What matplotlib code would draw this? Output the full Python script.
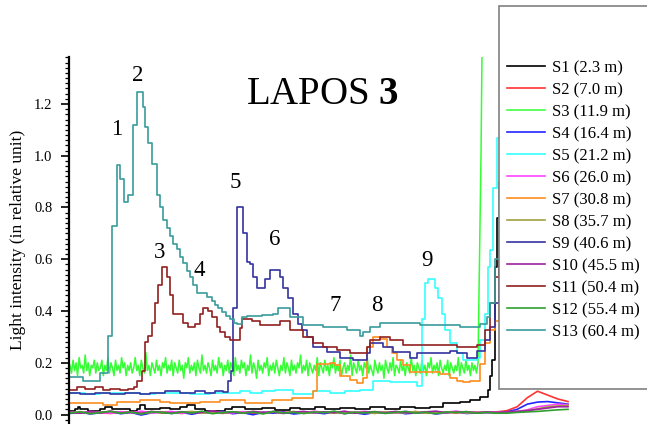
import matplotlib
matplotlib.use("Agg")
import matplotlib.pyplot as plt
import numpy as np
from matplotlib.ticker import MultipleLocator, FormatStrFormatter
from matplotlib.patches import Rectangle

plt.rcParams['font.family'] = ['Liberation Serif', 'DejaVu Serif']
plt.rcParams['mathtext.fontset'] = 'custom'
plt.rcParams['mathtext.rm'] = 'Liberation Serif'
plt.rcParams['mathtext.bf'] = 'Liberation Serif:bold'

# channel position (arbitrary units) and light intensity (relative unit)
labels = ["S1 (2.3 m)", "S2 (7.0 m)", "S3 (11.9 m)", "S4 (16.4 m)", "S5 (21.2 m)",
          "S6 (26.0 m)", "S7 (30.8 m)", "S8 (35.7 m)", "S9 (40.6 m)", "S10 (45.5 m)",
          "S11 (50.4 m)", "S12 (55.4 m)", "S13 (60.4 m)"]
colors = ["#000000", "#ff3333", "#33ff33", "#2424ff", "#33ffff", "#ff44ff", "#ff8c1f",
          "#a0a040", "#3434a0", "#a020a0", "#922020", "#30a030", "#3a9c9c"]

# stepped series
s1_x = [70, 75, 78, 80, 88, 100, 105, 112, 130, 137, 140, 145, 160, 170, 180, 187, 195, 205,
        225, 232, 245, 262, 275, 290, 300, 315, 325, 340, 355, 370, 385, 400, 415, 430, 443,
        460, 470, 480, 488, 490, 492, 495, 497, 520]
s1_y = [0.015, 0.02, 0.03, 0.02, 0.015, 0.02, 0.03, 0.02, 0.015, 0.02, 0.035, 0.02, 0.025, 0.02,
        0.03, 0.035, 0.02, 0.015, 0.02, 0.03, 0.02, 0.025, 0.018, 0.025, 0.02, 0.028, 0.02, 0.025,
        0.02, 0.028, 0.022, 0.03, 0.025, 0.03, 0.045, 0.05, 0.055, 0.066, 0.093, 0.15, 0.21, 0.57,
        0.76, 0.76]

s5_x = [70, 85, 100, 120, 140, 155, 175, 190, 210, 240, 250, 262, 275, 293, 313, 330, 345, 360,
        373, 390, 417, 422, 425, 428, 435, 438, 442, 445, 450, 457, 463, 477, 480, 485, 488, 490,
        493, 497, 520]
s5_y = [0.083, 0.08, 0.083, 0.085, 0.08, 0.085, 0.083, 0.08, 0.085, 0.09, 0.085, 0.09, 0.093,
        0.08, 0.09, 0.085, 0.09, 0.093, 0.13, 0.125, 0.112, 0.37, 0.51, 0.525, 0.49, 0.45, 0.39,
        0.325, 0.275, 0.236, 0.21, 0.22, 0.286, 0.39, 0.57, 0.635, 0.875, 1.07, 1.07]

s7_x = [70, 103, 117, 140, 160, 170, 200, 220, 245, 272, 292, 313, 317, 330, 335, 340, 350, 357,
        363, 367, 373, 380, 387, 392, 397, 403, 410, 440, 450, 457, 463, 470, 480, 485, 490, 495,
        499, 520]
s7_y = [0.046, 0.035, 0.05, 0.055, 0.05, 0.046, 0.05, 0.055, 0.045, 0.055, 0.062, 0.09, 0.197,
        0.20, 0.19, 0.15, 0.135, 0.12, 0.14, 0.26, 0.30, 0.29, 0.26, 0.236, 0.21, 0.19, 0.163,
        0.155, 0.14, 0.13, 0.125, 0.13, 0.197, 0.275, 0.325, 0.36, 0.6, 0.6]

s9_x = [70, 80, 95, 110, 125, 140, 150, 165, 180, 195, 205, 215, 223, 228, 231, 233, 237, 243,
        247, 250, 253, 257, 265, 270, 280, 283, 288, 293, 298, 302, 307, 313, 327, 340, 353, 367,
        370, 383, 393, 410, 417, 450, 457, 467, 477, 485, 490, 495, 499, 520]
s9_y = [0.085, 0.08, 0.085, 0.08, 0.085, 0.08, 0.085, 0.09, 0.085, 0.09, 0.085, 0.09, 0.088,
        0.13, 0.17, 0.41, 0.80, 0.70, 0.59, 0.58, 0.53, 0.49, 0.525, 0.557, 0.53, 0.49, 0.45,
        0.39, 0.35, 0.325, 0.30, 0.26, 0.24, 0.22, 0.21, 0.236, 0.275, 0.26, 0.24, 0.217, 0.236,
        0.245, 0.236, 0.22, 0.245, 0.286, 0.34, 0.43, 0.7, 0.7]

s11_x = [70, 77, 85, 95, 103, 110, 120, 128, 134, 137, 142, 145, 148, 152, 155, 158, 162, 167,
         170, 173, 183, 188, 195, 200, 203, 208, 212, 217, 220, 225, 230, 240, 242, 252, 260, 280,
         290, 303, 313, 323, 337, 350, 367, 370, 380, 390, 403, 457, 477, 485, 490, 495, 499, 520]
s11_y = [0.095, 0.105, 0.10, 0.105, 0.095, 0.10, 0.095, 0.10, 0.105, 0.13, 0.17, 0.28, 0.305,
         0.355, 0.43, 0.50, 0.57, 0.53, 0.46, 0.39, 0.355, 0.34, 0.35, 0.39, 0.41, 0.40, 0.375,
         0.337, 0.32, 0.30, 0.287, 0.335, 0.37, 0.36, 0.345, 0.36, 0.325, 0.30, 0.275, 0.26, 0.248,
         0.236, 0.26, 0.286, 0.298, 0.286, 0.267, 0.26, 0.27, 0.325, 0.43, 0.53, 0.7, 0.7]

s13_x = [70, 83, 100, 108, 112, 117, 120, 124, 128, 133, 137, 143, 145, 148, 152, 157, 160, 163,
         167, 170, 173, 177, 180, 183, 187, 190, 193, 197, 207, 212, 215, 218, 222, 226, 230, 234,
         237, 242, 247, 262, 273, 278, 283, 290, 303, 323, 347, 360, 363, 370, 380, 397, 420, 460,
         480, 487, 490, 495, 499, 520]
s13_y = [0.145, 0.13, 0.16, 0.305, 0.73, 0.965, 0.91, 0.82, 0.85, 1.12, 1.245, 1.19, 1.11, 1.05,
         0.97, 0.85, 0.80, 0.75, 0.72, 0.69, 0.66, 0.64, 0.61, 0.585, 0.555, 0.53, 0.50, 0.47,
         0.455, 0.44, 0.425, 0.41, 0.395, 0.38, 0.37, 0.355, 0.35, 0.375, 0.38, 0.385, 0.39, 0.41,
         0.41, 0.375, 0.345, 0.34, 0.325, 0.305, 0.32, 0.34, 0.355, 0.355, 0.345, 0.337, 0.35,
         0.375, 0.43, 0.6, 0.9, 0.9]

# noisy series
s3_noise = [0.19, 0.16, 0.21, 0.17, 0.20, 0.15, 0.22, 0.18, 0.19, 0.16,
            0.23, 0.17, 0.20, 0.15, 0.19, 0.18, 0.21, 0.16, 0.20, 0.17,
            0.18, 0.21, 0.15, 0.19, 0.17, 0.22, 0.16, 0.20, 0.18, 0.15,
            0.21, 0.17, 0.19, 0.16, 0.22, 0.18, 0.20, 0.15, 0.19, 0.17,
            0.20, 0.16, 0.18, 0.22, 0.17, 0.19, 0.15, 0.21, 0.18, 0.16,
            0.24, 0.17, 0.19, 0.15, 0.20, 0.18, 0.16, 0.21, 0.17, 0.19,
            0.15, 0.20, 0.18, 0.22, 0.16, 0.19, 0.17, 0.21, 0.15, 0.20,
            0.18, 0.16, 0.21, 0.17, 0.19, 0.14, 0.20, 0.18, 0.22, 0.16,
            0.19, 0.17, 0.20, 0.15, 0.21, 0.18, 0.16, 0.23, 0.17, 0.19,
            0.16, 0.20, 0.18, 0.15, 0.21, 0.17, 0.19, 0.16, 0.22, 0.18,
            0.20, 0.15, 0.19, 0.17, 0.21, 0.16, 0.20, 0.18, 0.15, 0.22,
            0.17, 0.19, 0.16, 0.21, 0.18, 0.20, 0.15, 0.19, 0.17, 0.23,
            0.16, 0.20, 0.18, 0.14, 0.21, 0.17, 0.19, 0.16, 0.20, 0.18,
            0.22, 0.15, 0.19, 0.17, 0.20, 0.16, 0.21, 0.18, 0.15, 0.19,
            0.17, 0.22, 0.16, 0.20, 0.18, 0.15, 0.21, 0.17, 0.19, 0.16,
            0.20, 0.18, 0.23, 0.16, 0.19, 0.17, 0.21, 0.15, 0.20, 0.18,
            0.16, 0.19, 0.17, 0.22, 0.15, 0.20, 0.18, 0.16, 0.21, 0.17,
            0.19, 0.15, 0.20, 0.18, 0.22, 0.16, 0.19, 0.17, 0.21, 0.15,
            0.18, 0.20, 0.16, 0.19, 0.17, 0.23, 0.15, 0.20, 0.18, 0.16,
            0.21, 0.17, 0.19, 0.15, 0.20, 0.18, 0.22, 0.16, 0.19, 0.17,
            0.15, 0.21, 0.18, 0.16, 0.20, 0.17, 0.19, 0.14, 0.21, 0.18,
            0.16, 0.20, 0.17, 0.22, 0.15, 0.19, 0.18, 0.16, 0.21, 0.17,
            0.19, 0.15, 0.20, 0.18, 0.16, 0.22, 0.17, 0.19, 0.15, 0.20,
            0.18, 0.16, 0.21, 0.17, 0.19, 0.15, 0.20, 0.18, 0.22, 0.16,
            0.19, 0.17, 0.20, 0.15, 0.21, 0.18, 0.16, 0.19, 0.17, 0.21,
            0.15, 0.20, 0.18, 0.16, 0.19, 0.17, 0.22, 0.15, 0.20, 0.18,
            0.16, 0.21, 0.17, 0.19, 0.15, 0.20, 0.17, 0.19, 0.16, 0.20]
s3_spike_x = [481, 482.5, 520]
s3_spike_y = [1.0, 1.6, 1.6]

s2_y = [0.008, 0.005, 0.010, 0.006, 0.004, 0.009, 0.007, 0.005, 0.011, 0.006,
        0.008, 0.004, 0.009, 0.006, 0.010, 0.005, 0.007, 0.009, 0.004, 0.008,
        0.006, 0.010, 0.005, 0.007, 0.009, 0.006, 0.008, 0.004, 0.010, 0.007,
        0.005, 0.009, 0.006, 0.008, 0.011, 0.005, 0.007, 0.009, 0.006, 0.008,
        0.010, 0.007, 0.010, 0.015, 0.030, 0.065, 0.090, 0.075, 0.060, 0.050]
s4_y = [0.004, 0.009, 0.002, 0.007, 0.011, 0.003, 0.008, -0.002, 0.006, 0.010,
        0.004, 0.008, 0.001, 0.009, 0.005, 0.012, 0.003, 0.007, -0.001, 0.008,
        0.005, 0.010, 0.002, 0.006, 0.009, 0.003, 0.011, 0.004, 0.007, 0.001,
        0.008, 0.005, 0.010, 0.003, 0.006, 0.009, 0.002, 0.007, 0.011, 0.004,
        0.006, 0.008, 0.005, 0.010, 0.020, 0.040, 0.048, 0.050, 0.045, 0.040]
s6_y = [0.010, 0.006, 0.012, 0.008, 0.005, 0.011, 0.007, 0.013, 0.006, 0.009,
        0.012, 0.005, 0.010, 0.007, 0.013, 0.008, 0.006, 0.011, 0.009, 0.005,
        0.012, 0.007, 0.010, 0.006, 0.013, 0.008, 0.011, 0.005, 0.009, 0.012,
        0.007, 0.010, 0.006, 0.012, 0.008, 0.011, 0.005, 0.009, 0.013, 0.007,
        0.010, 0.008, 0.008, 0.010, 0.012, 0.018, 0.030, 0.035, 0.040, 0.038]
s8_y = [0.007, 0.011, 0.004, 0.009, 0.012, 0.006, 0.010, 0.003, 0.008, 0.011,
        0.005, 0.009, 0.012, 0.006, 0.008, 0.004, 0.010, 0.007, 0.011, 0.005,
        0.009, 0.006, 0.012, 0.004, 0.008, 0.010, 0.005, 0.011, 0.007, 0.009,
        0.004, 0.010, 0.008, 0.006, 0.012, 0.005, 0.009, 0.007, 0.011, 0.006,
        0.008, 0.010, 0.005, 0.008, 0.010, 0.015, 0.022, 0.030, 0.033, 0.035]
s10_y = [0.009, 0.005, 0.011, 0.007, 0.013, 0.006, 0.010, 0.004, 0.012, 0.008,
         0.006, 0.011, 0.005, 0.009, 0.013, 0.007, 0.010, 0.005, 0.012, 0.008,
         0.011, 0.004, 0.009, 0.012, 0.006, 0.010, 0.007, 0.013, 0.005, 0.009,
         0.011, 0.006, 0.012, 0.008, 0.005, 0.010, 0.013, 0.007, 0.009, 0.011,
         0.006, 0.010, 0.008, 0.010, 0.012, 0.015, 0.020, 0.025, 0.030, 0.030]
s12_y = [0.006, 0.010, 0.003, 0.008, 0.012, 0.005, 0.009, 0.002, 0.011, 0.007,
         0.004, 0.010, 0.006, 0.013, 0.003, 0.008, 0.011, 0.005, 0.009, 0.002,
         0.012, 0.006, 0.008, 0.004, 0.010, 0.007, 0.013, 0.003, 0.009, 0.006,
         0.011, 0.004, 0.008, 0.012, 0.005, 0.009, 0.003, 0.010, 0.007, 0.011,
         0.005, 0.008, 0.005, 0.005, 0.008, 0.010, 0.012, 0.015, 0.018, 0.020]

peak_labels = [("1", 117, 1.10), ("2", 138, 1.31), ("3", 160, 0.625), ("4", 199, 0.555),
               ("5", 235, 0.895), ("6", 275, 0.675), ("7", 335, 0.42), ("8", 377, 0.42),
               ("9", 427, 0.595)]

W, H = 647, 424
fig = plt.figure(figsize=(W / 100, H / 100), dpi=100)
ax = fig.add_axes([69 / W, 0, 1 - 69 / W, (H - 57) / H])

lw = 1.2
handles = [None] * 13
handles[0], = ax.step(s1_x, s1_y, where='post', color=colors[0], lw=lw)
x_low = np.linspace(70, 568, len(s2_y))
handles[1], = ax.plot(x_low, s2_y, color=colors[1], lw=lw)
x_s3 = list(np.linspace(70, 478, len(s3_noise))) + s3_spike_x
handles[2], = ax.plot(x_s3, s3_noise + s3_spike_y, color=colors[2], lw=1.1)
handles[3], = ax.plot(np.linspace(70, 568, len(s4_y)), s4_y, color=colors[3], lw=lw)
handles[4], = ax.step(s5_x, s5_y, where='post', color=colors[4], lw=lw)
handles[5], = ax.plot(np.linspace(70, 568, len(s6_y)), s6_y, color=colors[5], lw=lw)
handles[6], = ax.step(s7_x, s7_y, where='post', color=colors[6], lw=lw)
handles[7], = ax.plot(np.linspace(70, 568, len(s8_y)), s8_y, color=colors[7], lw=lw)
handles[8], = ax.step(s9_x, s9_y, where='post', color=colors[8], lw=lw)
handles[9], = ax.plot(np.linspace(70, 568, len(s10_y)), s10_y, color=colors[9], lw=lw)
handles[10], = ax.step(s11_x, s11_y, where='post', color=colors[10], lw=lw)
handles[11], = ax.plot(np.linspace(70, 568, len(s12_y)), s12_y, color=colors[11], lw=lw)
handles[12], = ax.step(s13_x, s13_y, where='post', color=colors[12], lw=lw)

for txt, x, y in peak_labels:
    ax.text(x, y, txt, fontsize=16.5, ha='center', va='center')

ax.set_xlim(69, 647)
ax.set_ylim(-0.0367, 1.3816)
ax.yaxis.set_major_locator(MultipleLocator(0.2))
ax.yaxis.set_minor_locator(MultipleLocator(0.02))
ax.yaxis.set_major_formatter(FormatStrFormatter('%.1f'))
ax.set_yticks(np.arange(0, 1.21, 0.2))
ax.tick_params(axis='y', which='major', length=6, width=1.2, labelsize=10.5, pad=6)
ax.tick_params(axis='y', which='minor', length=3, width=0.9)
ax.tick_params(axis='x', bottom=False, labelbottom=False)
for s in ['top', 'right', 'bottom']:
    ax.spines[s].set_visible(False)
ax.spines['left'].set_linewidth(1.6)

fig.text(18 / W, 1 - 240 / H, "Light intensity (in relative unit)", rotation=90,
         ha='center', va='center', fontsize=12.5)
fig.text(322 / W, 1 - 95 / H, r"LAPOS $\mathbf{3}$", ha='center', va='center', fontsize=28)

box = Rectangle((499 / W, 1 - 389 / H), 0.4, (389 - 6) / H, transform=fig.transFigure,
                facecolor='white', edgecolor='#808080', lw=1.2, zorder=4)
fig.add_artist(box)
leg = fig.legend(handles, labels, loc='upper left', bbox_to_anchor=(507 / W, 1 - 60 / H),
                 frameon=False, fontsize=12, handlelength=2.3, handletextpad=0.4,
                 labelspacing=0.36, borderpad=0, borderaxespad=0)
leg.set_zorder(6)

fig.savefig("out.png", dpi=100)
